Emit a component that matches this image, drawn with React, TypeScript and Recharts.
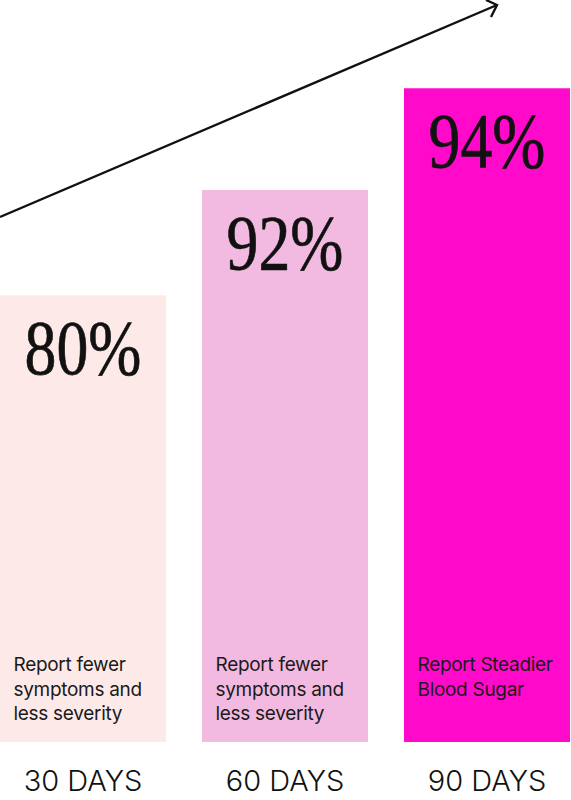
import React from 'react';
import { BarChart, Bar, XAxis, YAxis, Cell, LabelList } from 'recharts';

const categories = ['30 DAYS', '60 DAYS', '90 DAYS'];
const percentValues = [80, 92, 94];
const barLevels = [60.2, 74.4, 88.1];
const descriptions = [
  'Report fewer|symptoms and|less severity',
  'Report fewer|symptoms and|less severity',
  'Report Steadier|Blood Sugar',
];
const barColors = ['#FDEAE8', '#F3BAE1', '#FF0ACB'];

const data = categories.map((c, i) => ({
  category: c,
  level: barLevels[i],
  percent: percentValues[i],
  desc: descriptions[i],
}));

const PercentLabel = (props: any) => {
  const { x, y, width, value } = props;
  const cx = Number(x) + Number(width) / 2;
  const by = Number(y) + 79;
  return (
    <g transform={`translate(${cx}, ${by}) scale(0.807, 1)`}>
      <text
        x={0}
        y={0}
        textAnchor="middle"
        fontFamily="'Liberation Serif', serif"
        fontSize={79}
        fill="#111"
        stroke="#111"
        strokeWidth={0.7}
      >
        {`${value}%`}
      </text>
    </g>
  );
};

const DescLabel = (props: any) => {
  const { x, y, height, value } = props;
  const lines = String(value).split('|');
  const bottom = Number(y) + Number(height);
  return (
    <text
      x={Number(x) + 13.5}
      y={bottom - 71}
      fontFamily="Inter, sans-serif"
      fontSize={19}
      letterSpacing={-0.3}
      fill="#1a1a1a"
    >
      {lines.map((l, i) => (
        <tspan key={i} x={Number(x) + 13.5} dy={i === 0 ? 0 : 24.5}>
          {l}
        </tspan>
      ))}
    </text>
  );
};

const DayTick = (props: any) => {
  const { x, y, payload } = props;
  return (
    <text
      x={x}
      y={y + 41}
      textAnchor="middle"
      fontFamily="Inter, sans-serif"
      fontWeight={300}
      fontSize={29}
      fill="#111"
    >
      {payload.value}
    </text>
  );
};

export default function App() {
  return (
    <div
      style={{
        position: 'absolute',
        left: 0,
        top: 0,
        width: 571,
        height: 800,
        background: '#fff',
      }}
    >
      <BarChart
        width={571}
        height={800}
        data={data}
        margin={{ top: 0, right: -17, left: -18, bottom: 0 }}
        barCategoryGap={18}
      >
        <XAxis
          dataKey="category"
          axisLine={false}
          tickLine={false}
          height={58}
          interval={0}
          tick={<DayTick />}
        />
        <YAxis hide domain={[0, 100]} />
        <Bar dataKey="level" isAnimationActive={false}>
          {data.map((d, i) => (
            <Cell key={d.category} fill={barColors[i]} />
          ))}
          <LabelList dataKey="percent" content={<PercentLabel />} />
          <LabelList dataKey="desc" content={<DescLabel />} />
        </Bar>
      </BarChart>
      <svg
        width={571}
        height={800}
        style={{ position: 'absolute', left: 0, top: 0, pointerEvents: 'none' }}
      >
        <line x1={0} y1={217} x2={497} y2={5} stroke="#111" strokeWidth={2.4} />
        <polyline
          points="486,0 497,5 491,17"
          fill="none"
          stroke="#111"
          strokeWidth={2.4}
          strokeLinejoin="miter"
        />
      </svg>
    </div>
  );
}
